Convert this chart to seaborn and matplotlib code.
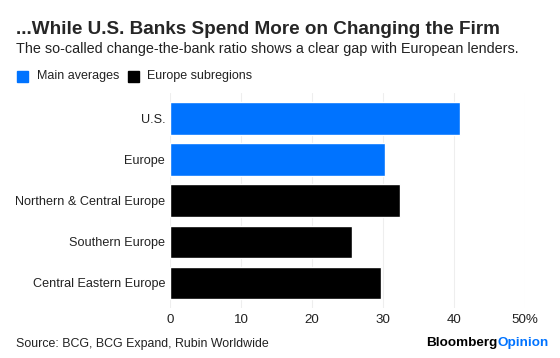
import pandas as pd
import seaborn as sns
import matplotlib.pyplot as plt

regions = ["U.S.", "Europe", "Northern & Central Europe", "Southern Europe", "Central Eastern Europe"]
ratio = [40.9, 30.3, 32.4, 25.7, 29.7]
groups = ["Main averages", "Main averages", "Europe subregions", "Europe subregions", "Europe subregions"]
x_ticks = [0, 10, 20, 30, 40, 50]
x_tick_labels = ["0", "10", "20", "30", "40", "50%"]

BLUE = "#0073ff"
palette = {"Main averages": BLUE, "Europe subregions": "#000000"}

df = pd.DataFrame({"Region": regions, "Ratio": ratio, "Group": groups})

sns.set_style("white")
plt.rcParams["font.family"] = ["Liberation Sans", "DejaVu Sans"]

W, H = 560, 358
fig = plt.figure(figsize=(5.6, 3.58), dpi=100)
# plot area: x 170..525 px, y 93..308 px
ax = fig.add_axes([170 / W, 1 - 308 / H, 355 / W, 215 / H])

sns.barplot(data=df, y="Region", x="Ratio", hue="Group", palette=palette,
            dodge=False, width=0.79, legend=False, ax=ax, saturation=1)

ax.set_xlim(0, 50)
ax.set_ylim(4.61, -0.62)
ax.set_xticks(x_ticks)
ax.set_xticklabels(x_tick_labels)
ax.xaxis.grid(True, color="#eeeeee", linewidth=0.8)
ax.set_axisbelow(True)
for s in ax.spines.values():
    s.set_visible(False)
ax.set_xlabel("")
ax.set_ylabel("")
ax.tick_params(axis="both", length=0, colors="#222222")
ax.tick_params(axis="x", pad=4.5, labelsize=9.6)
ax.tick_params(axis="y", pad=3.5, labelsize=9.1)

fig.text(16 / W, 1 - 29 / H, "...While U.S. Banks Spend More on Changing the Firm",
         fontsize=13.6, fontweight="bold", va="center", ha="left")
fig.text(16 / W, 1 - 49 / H, "The so-called change-the-bank ratio shows a clear gap with European lenders.",
         fontsize=10.35, va="center", ha="left", color="#222222")

# legend
leg_y = 76.5
fig.patches.append(plt.Rectangle((17 / W, 1 - (leg_y + 5.5) / H), 11 / W, 11 / H,
                                 transform=fig.transFigure, color=BLUE))
fig.text(37 / W, 1 - leg_y / H, "Main averages", fontsize=9.0, va="center", color="#222222")
fig.patches.append(plt.Rectangle((128 / W, 1 - (leg_y + 5.5) / H), 11 / W, 11 / H,
                                 transform=fig.transFigure, color="black"))
fig.text(147 / W, 1 - leg_y / H, "Europe subregions", fontsize=9.0, va="center", color="#222222")

fig.text(16 / W, 1 - 344 / H, "Source: BCG, BCG Expand, Rubin Worldwide",
         fontsize=8.9, va="center", ha="left", color="#222222")
fig.text(497.5 / W, 1 - 343 / H, "Bloomberg", fontsize=9.7, fontweight="bold",
         va="center", ha="right", color="black")
fig.text(497.5 / W, 1 - 343 / H, "Opinion", fontsize=9.7, fontweight="bold",
         va="center", ha="left", color=BLUE)

fig.savefig("out.png", dpi=100)
